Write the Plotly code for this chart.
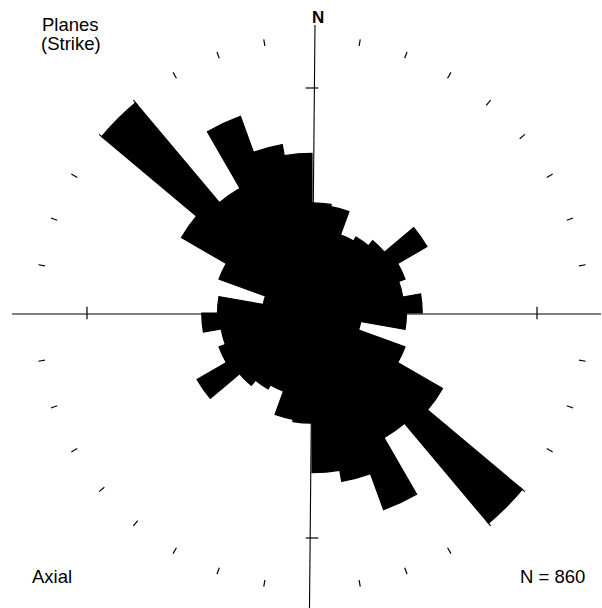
import plotly.graph_objects as go

# Axial rose diagram of plane strikes, 10-degree bins (percent of N = 860)
bin_starts = list(range(0, 180, 10))
bin_pct = [4.9, 4.8, 3.7, 3.9, 4.2, 5.9, 4.4, 4.1, 4.9,
           4.2, 2.2, 4.4, 6.7, 12.2, 6.4, 9.3, 7.6, 7.1]
bin_width = 10
n_total = 860
scale_mark_pct = 10          # cross marks on the axes
rim_tick_angles = [a for a in range(0, 360, 10) if a % 90 != 0]
rim_tick_r = (12.05, 12.35)

# axial data: each bin is drawn twice, opposite each other
theta = [s + bin_width / 2 for s in bin_starts] + [s + 180 + bin_width / 2 for s in bin_starts]
r = bin_pct + bin_pct

fig = go.Figure()
fig.add_trace(go.Barpolar(
    r=r, theta=theta, width=[bin_width] * len(theta),
    marker=dict(color="black", line=dict(color="black", width=1.2)),
    hoverinfo="skip", showlegend=False,
))

# rim ticks
tr, tt = [], []
for a in rim_tick_angles:
    tr += [rim_tick_r[0], rim_tick_r[1], None]
    tt += [a, a, None]
fig.add_trace(go.Scatterpolar(r=tr, theta=tt, mode="lines",
                              line=dict(color="black", width=1.2),
                              hoverinfo="skip", showlegend=False))

# scale crosses at 10 %
fig.add_trace(go.Scatterpolar(r=[scale_mark_pct] * 2, theta=[0, 180], mode="markers",
                              marker=dict(symbol="line-ew", size=9,
                                          line=dict(color="black", width=1.2)),
                              hoverinfo="skip", showlegend=False))
fig.add_trace(go.Scatterpolar(r=[scale_mark_pct] * 2, theta=[90, 270], mode="markers",
                              marker=dict(symbol="line-ns", size=9,
                                          line=dict(color="black", width=1.2)),
                              hoverinfo="skip", showlegend=False))

W, H = 602, 608
cx, cy = 312, 313          # pixel centre (from top)
R_px = 290
px_per_pct = 22.5
R_max = R_px / px_per_pct

def px(x):
    return x / W

def py(y):
    return (H - y) / H

FONT = "Liberation Sans, Arial"
FS = 18.5

fig.update_layout(
    width=W, height=H,
    margin=dict(l=0, r=0, t=0, b=0),
    paper_bgcolor="white",
    polar=dict(
        domain=dict(x=[px(cx - R_px), px(cx + R_px)], y=[py(cy + R_px), py(cy - R_px)]),
        bgcolor="rgba(0,0,0,0)",
        bargap=0,
        angularaxis=dict(rotation=90, direction="clockwise", visible=False,
                         showgrid=False, showline=False, ticks=""),
        radialaxis=dict(range=[0, R_max], visible=False, showgrid=False,
                        showline=False, ticks=""),
    ),
    shapes=[
        dict(type="line", xref="paper", yref="paper", layer="below",
             x0=px(12), x1=px(601), y0=py(cy + 1), y1=py(cy + 1),
             line=dict(color="black", width=1.1)),
        dict(type="line", xref="paper", yref="paper", layer="below",
             x0=px(315), x1=px(309.5), y0=py(25), y1=py(608),
             line=dict(color="black", width=1.1)),
    ],
    annotations=[
        dict(text="N", x=px(317.5), y=py(18), xref="paper", yref="paper",
             xanchor="center", yanchor="middle", showarrow=False,
             font=dict(family=FONT, size=17, color="black", weight="bold")),
        dict(text="Planes", x=px(40), y=py(25), xref="paper", yref="paper",
             xanchor="left", yanchor="middle", showarrow=False,
             font=dict(family=FONT, size=FS, color="black")),
        dict(text="(Strike)", x=px(39), y=py(43.5), xref="paper", yref="paper",
             xanchor="left", yanchor="middle", showarrow=False,
             font=dict(family=FONT, size=FS, color="black")),
        dict(text="Axial", x=px(30), y=py(576.5), xref="paper", yref="paper",
             xanchor="left", yanchor="middle", showarrow=False,
             font=dict(family=FONT, size=FS, color="black")),
        dict(text=f"N = {n_total}", x=px(587), y=py(576), xref="paper", yref="paper",
             xanchor="right", yanchor="middle", showarrow=False,
             font=dict(family=FONT, size=FS, color="black")),
    ],
)

fig.write_html("out.html",
               config={"displayModeBar": False, "staticPlot": True},
               post_script="document.body.style.margin='0';document.body.style.overflow='hidden';")
